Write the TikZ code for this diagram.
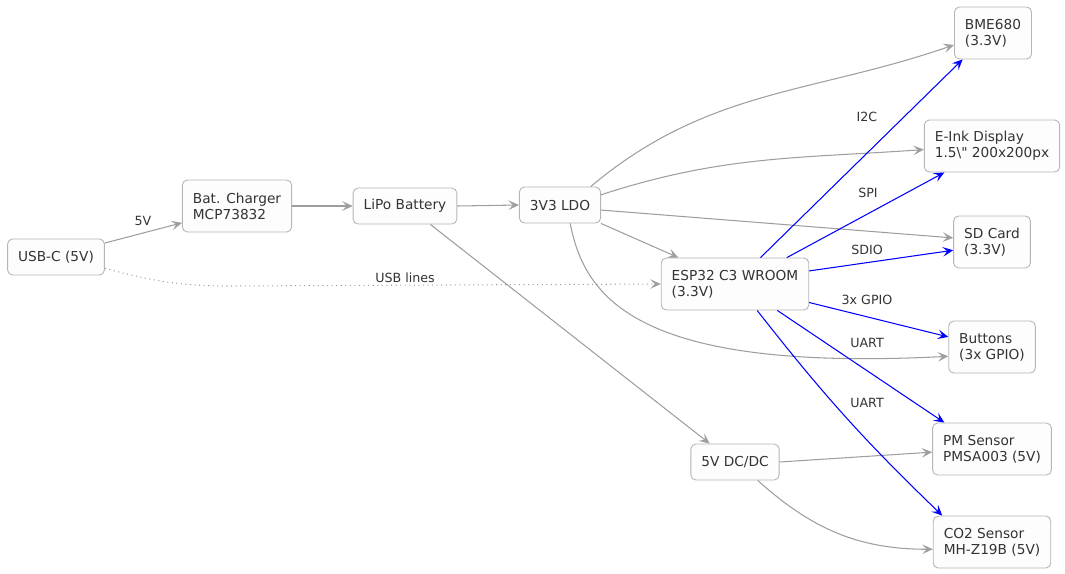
\documentclass[tikz,border=0pt]{standalone}
\usepackage{fontspec}
\setmainfont{DejaVu Sans}[Ligatures=TeXOff]
\usetikzlibrary{arrows.meta}
\definecolor{txtgray}{HTML}{333333}
\definecolor{boxline}{HTML}{B5B5B5}
\definecolor{boxfill}{HTML}{FDFDFD}
\definecolor{wiregray}{HTML}{9E9E9E}

\begin{document}
\begin{tikzpicture}[x=0.2mm, y=-0.2mm,
		blk/.style={draw=boxline, fill=boxfill, rounded corners=1mm, line width=0.5pt, align=left, anchor=center, text=txtgray, inner xsep=2.1mm, inner ysep=0.5mm, minimum height=7.2mm, font=\fontsize{7.8}{9}\selectfont},
		blktwo/.style={blk, minimum height=10.4mm},
		pwr/.style={draw=wiregray, line width=0.6pt, -{Stealth[length=2.1mm, width=1.9mm, inset=0.9mm]}},
		bus/.style={pwr, draw=blue, -{Stealth[length=2.1mm, width=1.9mm, inset=0.9mm, blue]}},
		lbl/.style={text=txtgray, font=\fontsize{7.2}{8}\selectfont, inner sep=1pt}]
		%%%%% START %%%%%
		
		\useasboundingbox (0, 0) rectangle (1065, 573);
		
		\node[blk] (usb) at (56, 257) {USB-C (5V)};
		\node[blktwo] (chg) at (237, 206) {Bat. Charger\\MCP73832};
		\node[blk] (lipo) at (405, 206) {LiPo Battery};
		\node[blk] (ldo) at (560, 205) {3V3 LDO};
		\node[blktwo] (esp) at (735, 284) {ESP32 C3 WROOM\\(3.3V)};
		\node[blk] (dcdc) at (735, 462) {5V DC/DC};
		
		\node[blktwo] (bme) at (993, 33) {BME680\\(3.3V)};
		\node[blktwo] (eink) at (992, 146) {E-Ink Display\\1.5\textbackslash" 200x200px};
		\node[blktwo] (sd) at (992, 242) {SD Card\\(3.3V)};
		\node[blktwo] (btn) at (992, 347) {Buttons\\(3x GPIO)};
		\node[blktwo] (pm) at (992, 449) {PM Sensor\\PMSA003 (5V)};
		\node[blktwo] (co2) at (992, 542) {CO2 Sensor\\MH-Z19B (5V)};
		
		% power path
		\draw[pwr] (usb.16) -- (chg.197) node[lbl] at (143, 221) {5V};
		\draw[pwr, dotted] (usb.-13) to[out=-15, in=180] (230, 286) -- (esp.west)
			node[lbl] at (405, 278) {USB lines};
		\draw[pwr] (chg.east) -- (lipo.west);
		\draw[pwr] (lipo.east) -- (ldo.west);
		\draw[pwr] (lipo.-36) -- (dcdc.144);
		
		\draw[pwr] (ldo.31) to[out=40, in=199] (bme.197);
		\draw[pwr] (ldo.14) to[out=18, in=184] (eink.183);
		\draw[pwr] (ldo.-7) -- (sd.174);
		\draw[pwr] (ldo.south east) -- (esp.155);
		\draw[pwr] (ldo.-61) .. controls (585, 300) and (640, 372) .. (btn.192);
		
		\draw[pwr] (dcdc.0) -- (pm.183);
		\draw[pwr] (dcdc.-39) to[out=-42, in=180] (co2.187);
		
		% signal buses
		\draw[bus] (esp.46) -- (bme.221) node[lbl] at (867, 117) {I2C};
		\draw[bus] (esp.27) -- (eink.209) node[lbl] at (868, 193) {SPI};
		\draw[bus] (esp.10) -- (sd.192) node[lbl] at (867, 250) {SDIO};
		\draw[bus] (esp.-14) -- (btn.167) node[lbl] at (867, 300) {3x GPIO};
		\draw[bus] (esp.-32) -- (pm.151) node[lbl] at (867, 343) {UART};
		\draw[bus] (esp.-50) to[bend right=4] (co2.152) node[lbl] at (867, 403) {UART};
		
		%%%%% END %%%%%
	\end{tikzpicture}
\end{document}
